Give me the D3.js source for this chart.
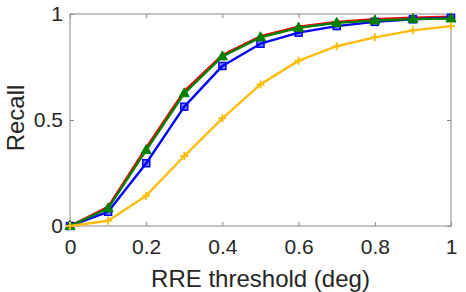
<!DOCTYPE html>
<html>
<head>
<meta charset="utf-8">
<script src="https://cdn.jsdelivr.net/npm/d3@7"></script>
<style>
  html, body { margin: 0; padding: 0; background: #fff; }
</style>
</head>
<body>
<div id="chart"></div>
<script>
// thresholds (deg)
const thresholds = [0, 0.1, 0.2, 0.3, 0.4, 0.5, 0.6, 0.7, 0.8, 0.9, 1.0];

// recall per method
const redRecall    = [0, 0.090, 0.370, 0.636, 0.806, 0.895, 0.940, 0.963, 0.976, 0.982, 0.987];
const blueRecall   = [0, 0.067, 0.296, 0.563, 0.755, 0.860, 0.912, 0.943, 0.963, 0.975, 0.982];
const greenRecall  = [0, 0.083, 0.358, 0.626, 0.800, 0.890, 0.935, 0.958, 0.969, 0.976, 0.979];
const yellowRecall = [0, 0.025, 0.143, 0.330, 0.508, 0.668, 0.780, 0.848, 0.890, 0.923, 0.943];

const xTicks = [0, 0.2, 0.4, 0.6, 0.8, 1];
const yTicks = [0, 0.5, 1];

const width = 466, height = 292;
const margin = {top: 14, right: 15, bottom: 66, left: 70};
const axisColor = '#8a8a8a';
const textColor = '#262626';
const font = '"Liberation Sans", Arial, Helvetica, sans-serif';

const svg = d3.select('#chart').append('svg')
  .attr('width', width)
  .attr('height', height)
  .attr('font-family', font);

const x = d3.scaleLinear().domain([0, 1]).range([margin.left, width - margin.right]);
const y = d3.scaleLinear().domain([0, 1]).range([height - margin.bottom, margin.top]);

// box
svg.append('rect')
  .attr('x', x(0)).attr('y', y(1))
  .attr('width', x(1) - x(0)).attr('height', y(0) - y(1))
  .attr('fill', 'none')
  .attr('stroke', axisColor)
  .attr('stroke-width', 1);

// bottom axis
const xAxis = svg.append('g')
  .attr('transform', `translate(0,${y(0)})`)
  .call(d3.axisBottom(x).tickValues(xTicks).tickSize(-4).tickPadding(13)
    .tickFormat(d => d === 0 || d === 1 ? d3.format('d')(d) : d3.format('.1f')(d)));
xAxis.select('.domain').remove();
xAxis.selectAll('.tick line').attr('stroke', axisColor);
xAxis.selectAll('.tick text').attr('fill', textColor).attr('font-size', 21).attr('font-family', font);

// top ticks
const xTop = svg.append('g')
  .attr('transform', `translate(0,${y(1)})`)
  .call(d3.axisTop(x).tickValues(xTicks).tickSize(-4).tickFormat(''));
xTop.select('.domain').remove();
xTop.selectAll('.tick line').attr('stroke', axisColor);

// left axis
const yAxis = svg.append('g')
  .attr('transform', `translate(${x(0)},0)`)
  .call(d3.axisLeft(y).tickValues(yTicks).tickSize(-4).tickPadding(7)
    .tickFormat(d => d === 0.5 ? '0.5' : d3.format('d')(d)));
yAxis.select('.domain').remove();
yAxis.selectAll('.tick line').attr('stroke', axisColor);
yAxis.selectAll('.tick text').attr('fill', textColor).attr('font-size', 21).attr('font-family', font);

// right ticks
const yRight = svg.append('g')
  .attr('transform', `translate(${x(1)},0)`)
  .call(d3.axisRight(y).tickValues(yTicks).tickSize(-4).tickFormat(''));
yRight.select('.domain').remove();
yRight.selectAll('.tick line').attr('stroke', axisColor);

// labels
svg.append('text')
  .attr('x', (x(0) + x(1)) / 2)
  .attr('y', 287)
  .attr('text-anchor', 'middle')
  .attr('font-size', 24)
  .attr('fill', textColor)
  .text('RRE threshold (deg)');

svg.append('text')
  .attr('transform', `translate(24,${y(0.5) - 2}) rotate(-90)`)
  .attr('text-anchor', 'middle')
  .attr('font-size', 24)
  .attr('fill', textColor)
  .text('Recall');

const line = d3.line().x((d, i) => x(thresholds[i])).y(d => y(d));

const series = [
  {name: 'red', values: redRecall, color: '#ff0000', marker: 'none'},
  {name: 'blue', values: blueRecall, color: '#0000ff', marker: 'square'},
  {name: 'green', values: greenRecall, color: '#008000', marker: 'triangle'},
  {name: 'yellow', values: yellowRecall, color: '#fdbd10', marker: 'plus'}
];

series.forEach(s => {
  const g = svg.append('g');
  g.append('path')
    .datum(s.values)
    .attr('fill', 'none')
    .attr('stroke', s.color)
    .attr('stroke-width', 2.4)
    .attr('stroke-linejoin', 'round')
    .attr('d', line);

  if (s.marker === 'square') {
    g.selectAll('rect').data(s.values).join('rect')
      .attr('x', (d, i) => x(thresholds[i]) - 3.5)
      .attr('y', d => y(d) - 3.5)
      .attr('width', 7).attr('height', 7)
      .attr('fill', s.color).attr('fill-opacity', 0.5)
      .attr('stroke', s.color).attr('stroke-width', 1.5);
  } else if (s.marker === 'triangle') {
    g.selectAll('path.m').data(s.values).join('path')
      .attr('class', 'm')
      .attr('transform', (d, i) => `translate(${x(thresholds[i])},${y(d)})`)
      .attr('d', 'M0,-5.5L5,3.5L-5,3.5Z')
      .attr('fill', s.color)
      .attr('stroke', s.color).attr('stroke-width', 1);
  } else if (s.marker === 'plus') {
    g.selectAll('path.m').data(s.values).join('path')
      .attr('class', 'm')
      .attr('transform', (d, i) => `translate(${x(thresholds[i])},${y(d)})`)
      .attr('d', 'M-4,0H4M0,-4V4')
      .attr('fill', 'none')
      .attr('stroke', s.color).attr('stroke-width', 2);
  }
});
</script>
</body>
</html>
